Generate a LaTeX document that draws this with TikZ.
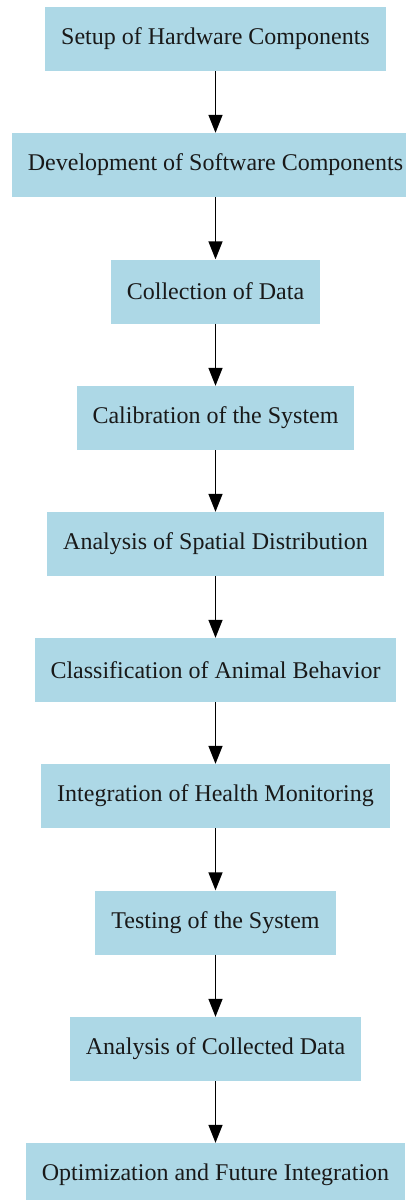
\documentclass[tikz,border=0pt]{standalone}
\usepackage{fontspec}
\setmainfont{Liberation Serif}
\usetikzlibrary{arrows.meta}
\definecolor{boxblue}{HTML}{ADD8E6}
\tikzset{
  stepbox/.style={fill=boxblue, draw=none, inner xsep=16pt, inner ysep=0pt,
    minimum height=64pt, font=\fontsize{24}{28}\selectfont, text=black!90},
  flow/.style={line width=1.5pt, -{Triangle[length=18pt,width=14pt]}}
}
\begin{document}
\begin{tikzpicture}[x=1pt,y=-1pt]
\useasboundingbox (0,0) rectangle (406,1200);
\clip (0,0) rectangle (406,1200);
\node[stepbox] (n1) at (215.5,39) {Setup of Hardware Components};
\node[stepbox] (n2) at (215.5,165) {Development of Software Components};
\node[stepbox] (n3) at (215.5,291.5) {Collection of Data};
\node[stepbox] (n4) at (215.5,418) {Calibration of the System};
\node[stepbox] (n5) at (215.5,544) {Analysis of Spatial Distribution};
\node[stepbox] (n6) at (215.5,670) {Classification of Animal Behavior};
\node[stepbox] (n7) at (215.5,796) {Integration of Health Monitoring};
\node[stepbox] (n8) at (215.5,922.5) {Testing of the System};
\node[stepbox] (n9) at (215.5,1049) {Analysis of Collected Data};
\node[stepbox] (n10) at (215.5,1175) {Optimization and Future Integration};
\foreach \a/\b in {n1/n2,n2/n3,n3/n4,n4/n5,n5/n6,n6/n7,n7/n8,n8/n9,n9/n10}
  \draw[flow] (\a.south) -- (\b.north);
\end{tikzpicture}
\end{document}
